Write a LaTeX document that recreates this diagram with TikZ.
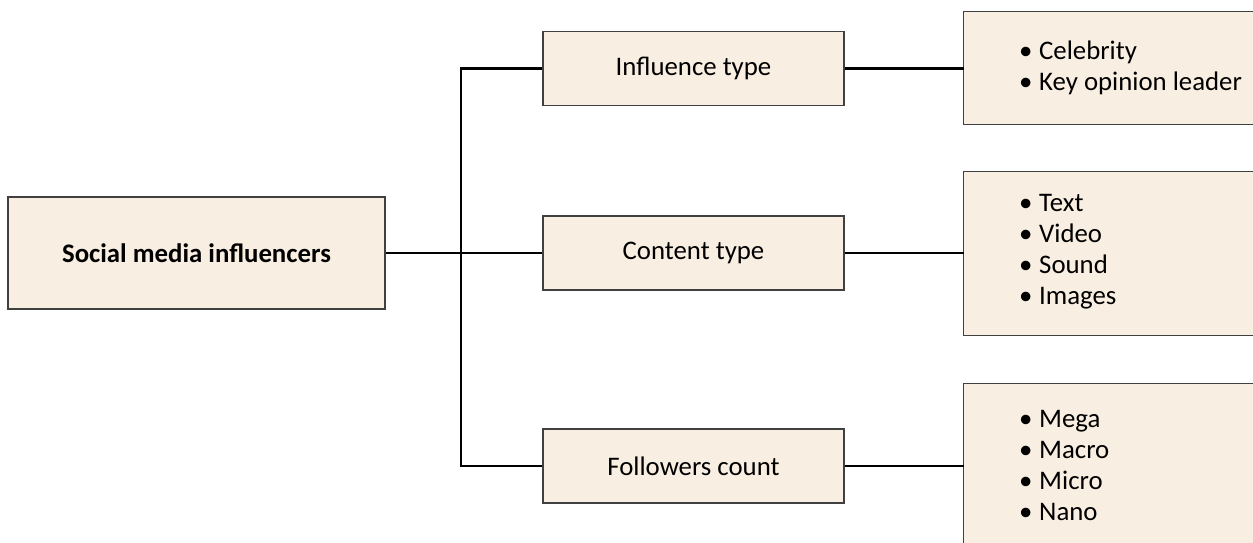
\documentclass[tikz,border=0pt]{standalone}
\usepackage{fontspec}
\setmainfont{Carlito}
\definecolor{boxfill}{RGB}{248,238,225}
\definecolor{boxline}{RGB}{64,64,64}
\tikzset{
  txt/.style={font=\fontsize{26.8}{31}\selectfont},
  box/.style={draw=boxline, line width=1.2pt, fill=boxfill, inner sep=0pt, txt},
  rootbox/.style={box, minimum width=377pt, minimum height=112pt, font=\fontsize{26.8}{31}\selectfont\bfseries},
  midbox/.style={box, minimum width=301pt, minimum height=74pt},
  listbox/.style={fill=boxfill, inner sep=0pt, minimum width=340pt},
  listedge/.style={draw=boxline, line width=1.2pt},
  listtext/.style={inner sep=0pt, align=left, anchor=west, txt},
  conn/.style={draw=black, line width=2.4pt, line join=miter}
}
\newcommand{\bul}{\makebox[20pt][l]{•}}
\begin{document}
\begin{tikzpicture}[x=1pt, y=-1pt]
\useasboundingbox (0,0) rectangle (1253,542);
\clip (0,0) rectangle (1253,542);
% boxes
\node[rootbox] (root) at (196.5,253) {Social media influencers};
\node[midbox] (m1) at (693.5,68.5) {Influence type};
\node[midbox] (m2) at (693.5,253) {Content type};
\node[midbox] (m3) at (693.5,466) {Followers count};
\node[listbox, minimum height=112pt] (r1) at (1134,68) {};
\node[listbox, minimum height=163pt] (r2) at (1134,253.5) {};
\node[listbox, minimum height=164pt] (r3) at (1134,466) {};
\draw[listedge] (r1.north east) -- (r1.north west) -- (r1.south west) -- (r1.south east);
\draw[listedge] (r2.north east) -- (r2.north west) -- (r2.south west) -- (r2.south east);
\draw[listedge] (r3.north east) -- (r3.north west) -- (r3.south west) -- (r3.south east);
% list texts
\node[listtext] (t1) at (1019,68) {\bul Celebrity\\\bul Key opinion leader};
\node[listtext] (t2) at (1019,252) {\bul Text\\\bul Video\\\bul Sound\\\bul Images};
\node[listtext] (t3) at (1019,465) {\bul Mega\\\bul Macro\\\bul Micro\\\bul Nano};
% connectors
\coordinate (jt) at (461,68.5);
\coordinate (jb) at (461,466);
\draw[conn] (root.east) -- (m2.west);
\draw[conn] (m1.west) -- (jt) -- (jb) -- (m3.west);
\draw[conn] (m1.east) -- (r1.west |- m1.east);
\draw[conn] (m2.east) -- (r2.west |- m2.east);
\draw[conn] (m3.east) -- (r3.west |- m3.east);
\end{tikzpicture}
\end{document}
